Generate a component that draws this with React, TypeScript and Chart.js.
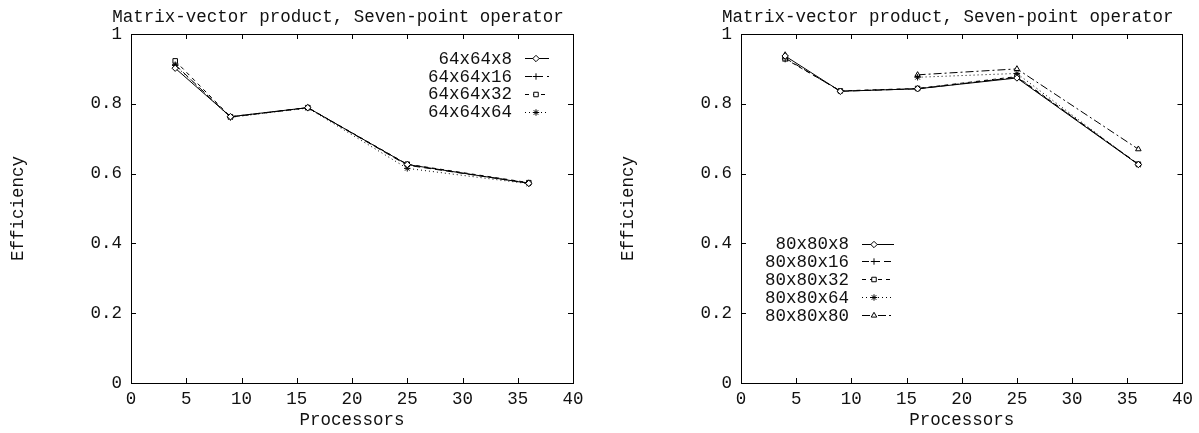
import React, { useEffect, useRef } from "react";
import { Chart, registerables } from "chart.js";
import { drawPoint } from "chart.js/helpers";

Chart.register(...registerables);

// ---------- data ----------
const processors = [4, 9, 16, 25, 36];

const leftTitle = "Matrix-vector product, Seven-point operator";
const rightTitle = "Matrix-vector product, Seven-point operator";
const xAxisTitle = "Processors";
const yAxisTitle = "Efficiency";

const leftNames = ["64x64x8", "64x64x16", "64x64x32", "64x64x64"];
const left64x8 = [0.902, 0.763, 0.789, 0.626, 0.572];
const left64x16 = [0.912, 0.762, 0.789, 0.624, 0.573];
const left64x32 = [0.923, 0.763, 0.789, 0.627, 0.574];
const left64x64 = [0.910, 0.761, 0.788, 0.615, 0.571];

const rightNames = ["80x80x8", "80x80x16", "80x80x32", "80x80x64", "80x80x80"];
const right80x8 = [0.937, 0.836, 0.843, 0.874, 0.626];
const right80x16 = [0.931, 0.836, 0.843, 0.876, 0.627];
const right80x32 = [0.929, 0.837, 0.844, 0.878, 0.627];
const right80x64 = [0.928, null, 0.876, 0.887, 0.625];
const right80x80 = [0.940, null, 0.883, 0.900, 0.670];

// ---------- styles ----------
const FONT = { family: "'Liberation Mono', 'DejaVu Sans Mono', monospace", size: 17.5 };
const fontStr = `${FONT.size}px ${FONT.family}`;
const TEXT_COLOR = "#111";

const seriesStyles = [
  { dash: [] as number[], point: "rectRot", fill: "#fff" },
  { dash: [7, 4], point: "cross", fill: "#000" },
  { dash: [4, 4], point: "rect", fill: "#fff" },
  { dash: [1, 3], point: "star", fill: "#000" },
  { dash: [8, 3, 2, 3], point: "triangle", fill: "#fff" },
];

function makeDatasets(names: string[], series: (number | null)[][]) {
  return names.map((name, i) => {
    const st = seriesStyles[i];
    return {
      label: name,
      data: processors.map((x, j) => ({ x, y: series[i][j] })),
      borderColor: "#000",
      borderWidth: 1,
      borderDash: st.dash,
      pointStyle: st.point,
      pointRadius: 3.2,
      pointBorderWidth: 1,
      pointBorderColor: "#000",
      pointBackgroundColor: st.fill,
      fill: false,
      tension: 0,
      spanGaps: false,
    };
  });
}

// ---------- plugins ----------
const gnuplotFrame = {
  id: "gnuplotFrame",
  afterDatasetsDraw(chart: any) {
    const { ctx, chartArea: a, scales } = chart;
    ctx.save();
    ctx.strokeStyle = "#000";
    ctx.lineWidth = 1;
    ctx.setLineDash([]);
    ctx.strokeRect(Math.round(a.left) + 0.5, Math.round(a.top) + 0.5, Math.round(a.right - a.left), Math.round(a.bottom - a.top));
    const L = 5;
    ctx.beginPath();
    scales.x.ticks.forEach((t: any) => {
      const px = Math.round(scales.x.getPixelForValue(t.value)) + 0.5;
      ctx.moveTo(px, a.bottom);
      ctx.lineTo(px, a.bottom - L);
      ctx.moveTo(px, a.top);
      ctx.lineTo(px, a.top + L);
    });
    scales.y.ticks.forEach((t: any) => {
      const py = Math.round(scales.y.getPixelForValue(t.value)) + 0.5;
      ctx.moveTo(a.left, py);
      ctx.lineTo(a.left + L, py);
      ctx.moveTo(a.right, py);
      ctx.lineTo(a.right - L, py);
    });
    ctx.stroke();
    ctx.restore();
  },
};

const gnuplotTitle = {
  id: "gnuplotTitle",
  afterDraw(chart: any, _args: any, opts: any) {
    const { ctx, chartArea: a } = chart;
    ctx.save();
    ctx.font = fontStr;
    ctx.fillStyle = TEXT_COLOR;
    ctx.textAlign = "center";
    ctx.textBaseline = "alphabetic";
    ctx.fillText(opts.text, (a.left + a.right) / 2 + opts.dx, opts.baseline);
    ctx.restore();
  },
};

const gnuplotKey = {
  id: "gnuplotKey",
  afterDraw(chart: any, _args: any, opts: any) {
    const { ctx, chartArea: a } = chart;
    const base = opts.fromRight ? a.right : a.left;
    ctx.save();
    ctx.font = fontStr;
    chart.data.datasets.forEach((ds: any, i: number) => {
      const y = a.top + opts.top + i * opts.gap;
      ctx.fillStyle = TEXT_COLOR;
      ctx.textAlign = "right";
      ctx.textBaseline = "middle";
      ctx.fillText(ds.label, base + opts.textRight, y + 1);
      ctx.strokeStyle = "#000";
      ctx.lineWidth = 1;
      ctx.setLineDash(ds.borderDash || []);
      ctx.beginPath();
      ctx.moveTo(base + opts.sampleStart, Math.round(y) + 0.5);
      ctx.lineTo(base + opts.sampleEnd, Math.round(y) + 0.5);
      ctx.stroke();
      ctx.setLineDash([]);
      ctx.fillStyle = ds.pointBackgroundColor;
      drawPoint(ctx, { pointStyle: ds.pointStyle, radius: 3.2, rotation: 0, borderWidth: 1 } as any, base + opts.marker, Math.round(y) + 0.5);
    });
    ctx.restore();
  },
};

function makeOptions(title: string, key: any, padRight: number) {
  return {
    animation: false,
    responsive: true,
    maintainAspectRatio: false,
    layout: { padding: { top: 34, right: padRight, left: 0, bottom: 0 } },
    plugins: {
      legend: { display: false },
      title: { display: false },
      tooltip: { enabled: false },
      gnuplotTitle: { text: title, dx: -14, baseline: 22 },
      gnuplotKey: key,
    },
    scales: {
      x: {
        type: "linear",
        min: 0,
        max: 40,
        ticks: { stepSize: 5, font: FONT, color: TEXT_COLOR, padding: 6, maxRotation: 0 },
        grid: { display: false, drawTicks: false },
        border: { display: false },
        title: { display: true, text: xAxisTitle, font: FONT, color: TEXT_COLOR, padding: { top: 0, bottom: 2.5 } },
        afterFit: (s: any) => {
          s.height = 50;
        },
      },
      y: {
        type: "linear",
        min: 0,
        max: 1,
        ticks: {
          stepSize: 0.2,
          font: FONT,
          color: TEXT_COLOR,
          padding: 9,
          callback: (v: any) => String(Math.round(Number(v) * 10) / 10),
        },
        grid: { display: false, drawTicks: false },
        border: { display: false },
        title: { display: true, text: yAxisTitle, font: FONT, color: TEXT_COLOR, padding: { top: 7.5, bottom: 0 } },
        afterFit: (s: any) => {
          s.width = 131;
        },
      },
    },
  };
}

function PlotCanvas({ datasets, options }: { datasets: any[]; options: any }) {
  const ref = useRef<HTMLCanvasElement | null>(null);
  useEffect(() => {
    if (!ref.current) return;
    const chart = new Chart(ref.current, {
      type: "line",
      data: { datasets },
      options,
      plugins: [gnuplotFrame, gnuplotTitle, gnuplotKey],
    } as any);
    return () => chart.destroy();
  }, []);
  return <canvas ref={ref} />;
}

export default function App() {
  const leftData = makeDatasets(leftNames, [left64x8, left64x16, left64x32, left64x64]);
  const rightData = makeDatasets(rightNames, [right80x8, right80x16, right80x32, right80x64, right80x80]);
  const leftOpts = makeOptions(
    leftTitle,
    { fromRight: true, textRight: -61, sampleStart: -48, sampleEnd: -24, marker: -37, top: 24, gap: 17.9 },
    27
  );
  const rightOpts = makeOptions(
    rightTitle,
    { fromRight: false, textRight: 108, sampleStart: 121, sampleEnd: 153, marker: 133, top: 209.5, gap: 17.9 },
    16
  );
  return (
    <div style={{ position: "absolute", left: 0, top: 0, width: 1199, height: 433, background: "#fff" }}>
      <div style={{ position: "absolute", left: 0, top: 0, width: 600, height: 433 }}>
        <PlotCanvas datasets={leftData} options={leftOpts} />
      </div>
      <div style={{ position: "absolute", left: 610, top: 0, width: 589, height: 433 }}>
        <PlotCanvas datasets={rightData} options={rightOpts} />
      </div>
    </div>
  );
}
